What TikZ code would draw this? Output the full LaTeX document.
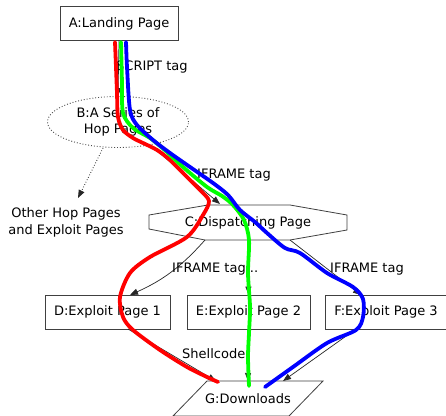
\documentclass[tikz,border=0pt]{standalone}
\usepackage{fontspec}
\setmainfont{DejaVu Sans}
\usetikzlibrary{shapes.geometric,arrows.meta}

\tikzset{
  pagebox/.style={draw=black!75, line width=0.8pt, minimum height=34pt, inner sep=0pt},
  hop/.style={ellipse, draw=black!70, dotted, line width=0.9pt, minimum width=141pt, minimum height=51pt, inner sep=0pt, align=center},
  plain/.style={inner sep=0pt, align=center},
  link/.style={draw=black!85, line width=0.7pt, -{Triangle[length=8pt,width=6pt]}},
  hoplink/.style={link, dotted, line width=0.9pt},
  lbl/.style={inner sep=0pt, anchor=west},
  trace/.style={line width=3.8pt, line cap=round, line join=round},
}

\begin{document}
\begin{tikzpicture}[x=1pt, y=-1pt, font=\fontsize{13}{16}\selectfont]
\useasboundingbox (0,0) rectangle (446,415);
\clip (0,0) rectangle (446,415);
\fill[white] (0,0) rectangle (446,415);

% nodes
\node[pagebox, minimum width=118pt] (A) at (119,23.5) {A:Landing Page};
\node[hop] (B) at (118,122) {B:A Series of\\Hop Pages};
\node[plain, font=\fontsize{13}{17}\selectfont] (other) at (66,222) {Other Hop Pages\\and Exploit Pages};

% dispatching page: elongated octagon
\node[plain, minimum width=198pt, minimum height=35pt] (C) at (248,222.5) {C:Dispatching Page};
\draw[black!75, line width=0.8pt]
  (149,215) -- (208,205) -- (290,205) -- (347,215) -- (347,230)
  -- (290,240) -- (205,240) -- (149,229) -- cycle;

\node[pagebox, minimum width=125pt] (D) at (107.5,312) {D:Exploit Page 1};
\node[pagebox, minimum width=123pt] (E) at (248.5,312) {E:Exploit Page 2};
\node[pagebox, minimum width=122pt] (F) at (386,312) {F:Exploit Page 3};

% downloads: parallelogram
\node[plain, minimum width=116pt, minimum height=35pt] (G) at (248,398.5) {G:Downloads};
\draw[black!75, line width=0.8pt]
  (207,381) -- (323,381) -- (289,416) -- (173,416) -- cycle;

% connectors
\coordinate (Bout) at (150,145);
\coordinate (Cin) at (220,204);
\coordinate (Bdot) at (103,148);
\coordinate (Oin) at (78,198);
\draw[link] (A.south) -- (B.north);
\draw[hoplink] (Bdot) -- (Oin);
\draw[link] (Bout) -- (Cin);
\draw[link] (205,240) to[bend left=12] (130,295);
\draw[link] (248,240) -- (E.north);
\draw[link] (290,240) -- (361,295);
\draw[link] (128,329) -- (216,381);
\draw[link] (E.south) -- (248,381);
\draw[link] (356,329) -- (283,381);

% connector labels
\node[lbl] (l1) at (116,67) {SCRIPT tag};
\node[lbl] (l2) at (197,175) {IFRAME tag};
\node[lbl] (l3) at (172,269) {IFRAME tag...};
\node[lbl] (l4) at (330,269) {IFRAME tag};
\node[lbl] (l5) at (182,354) {Shellcode};

% hand-drawn traces
\draw[trace, red] plot[smooth, tension=0.5] coordinates {
  (115,42) (116,67) (117,93) (118,117) (123,130) (133,138) (143,143)
  (157,150) (170,160) (187,177) (200,190) (209,201) (203,215) (187,237)
  (150,257) (130,273) (120,297) (123,317) (133,330) (160,350) (187,367)
  (207,377) (218,382)};
\draw[trace, green] plot[smooth, tension=0.5] coordinates {
  (121,42) (122,83) (123,113) (133,128) (150,138) (167,152) (183,167)
  (207,187) (222,196) (233,205) (244,220) (249,240) (248,273) (250,307)
  (249,333) (248,357) (249,386)};
\draw[trace, blue] plot[smooth, tension=0.5] coordinates {
  (126,42) (127,67) (130,110) (137,125) (153,140) (170,153) (190,167)
  (213,183) (228,195) (240,210) (255,222) (267,233) (285,248) (300,253)
  (327,273) (353,287) (363,299) (363,317) (356,330) (327,343) (293,367)
  (265,387)};
\end{tikzpicture}
\end{document}
